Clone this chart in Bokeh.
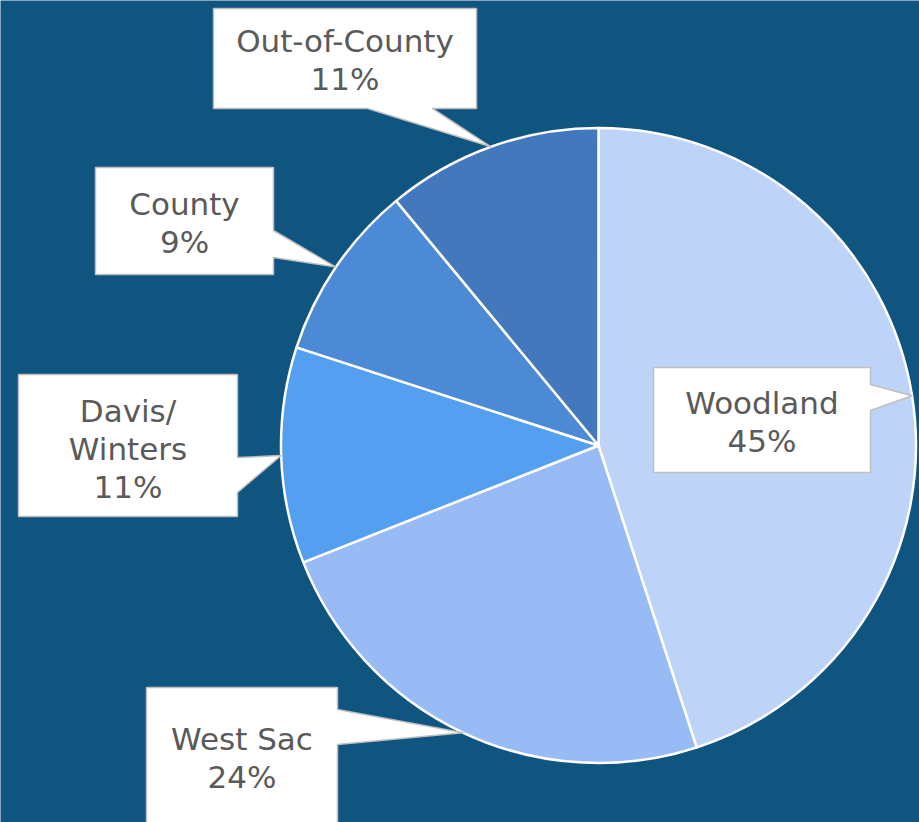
import math
from bokeh.plotting import figure
from bokeh.models import Range1d
from bokeh.core.properties import value
from bokeh.embed import file_html
from bokeh.resources import INLINE

# ---- data ----
categories = ["Woodland", "West Sac", "Davis/Winters", "County", "Out-of-County"]
shares = [45, 24, 11, 9, 11]
colors = ["#BDD3F7", "#99BBF5", "#559FF1", "#4D8AD6", "#4478BD"]

BG = "#0F5580"
W_PX, H_PX = 919, 822
REF_W, REF_H = 919, 822

def Y(ry):
    return REF_H - ry

cx, cy, R = 598, Y(445), 317.5

p = figure(width=W_PX, height=H_PX, output_backend="svg", toolbar_location=None,
           x_range=Range1d(0, REF_W), y_range=Range1d(0, REF_H), min_border=0)
p.axis.visible = False
p.grid.visible = False
p.outline_line_color = None
p.background_fill_color = BG
p.border_fill_color = BG

total = sum(shares)
starts, ends, mids = [], [], []
cum = 0
for s in shares:
    a0 = math.pi / 2 - 2 * math.pi * cum / total
    cum += s
    a1 = math.pi / 2 - 2 * math.pi * cum / total
    starts.append(a0)
    ends.append(a1)
    mids.append((a0 + a1) / 2)

p.wedge(x=[cx] * len(shares), y=[cy] * len(shares), radius=R,
        start_angle=starts, end_angle=ends, direction="clock",
        fill_color=colors, line_color="white", line_width=2.5)

# ---- callout layout (reference pixel coords): box l,t,r,b ; pointer side, base a,b ; text center y
layout = {
    "Woodland": dict(box=(653, 367, 870, 472), side="right", base=(384, 410), ty=421),
    "West Sac": dict(box=(146, 687, 337, 840), side="right", base=(709, 744), ty=757),
    "Davis/Winters": dict(box=(18, 374, 237, 516), side="right", base=(457, 492), ty=448),
    "County": dict(box=(95, 167, 273, 274), side="right", base=(230, 257), ty=222),
    "Out-of-County": dict(box=(213, 8, 476, 108), side="bottom", base=(367, 432), ty=59),
}
LINE = 38

xs_all, ys_all = [], []
tx, ty_, tt = [], [], []
for cat, share, mid in zip(categories, shares, mids):
    L = layout[cat]
    l, t, r, b = L["box"]
    tipx = cx + R * math.cos(mid)
    tipy = cy + R * math.sin(mid)
    a, bb = L["base"]
    if L["side"] == "right":
        pts = [(l, Y(t)), (r, Y(t)), (r, Y(a)), (tipx, tipy), (r, Y(bb)), (r, Y(b)), (l, Y(b))]
    else:
        pts = [(l, Y(t)), (r, Y(t)), (r, Y(b)), (bb, Y(b)), (tipx, tipy), (a, Y(b)), (l, Y(b))]
    xs_all.append([q[0] for q in pts])
    ys_all.append([q[1] for q in pts])
    lines = cat.replace("/", "/\n").split("\n") + [f"{share}%"]
    n = len(lines)
    for i, ln in enumerate(lines):
        tx.append((l + r) / 2)
        ty_.append(Y(L["ty"] + (i - (n - 1) / 2) * LINE))
        tt.append(ln)

p.patches(xs=xs_all, ys=ys_all, fill_color="white", line_color="#BFBFBF", line_width=1.5)
p.text(x=tx, y=ty_, text=tt, text_align="center", text_baseline="middle",
       text_font=value("DejaVu Sans"), text_font_size="31px", text_color="#5A5A5A")

open("out.html", "w").write(file_html(p, INLINE))
